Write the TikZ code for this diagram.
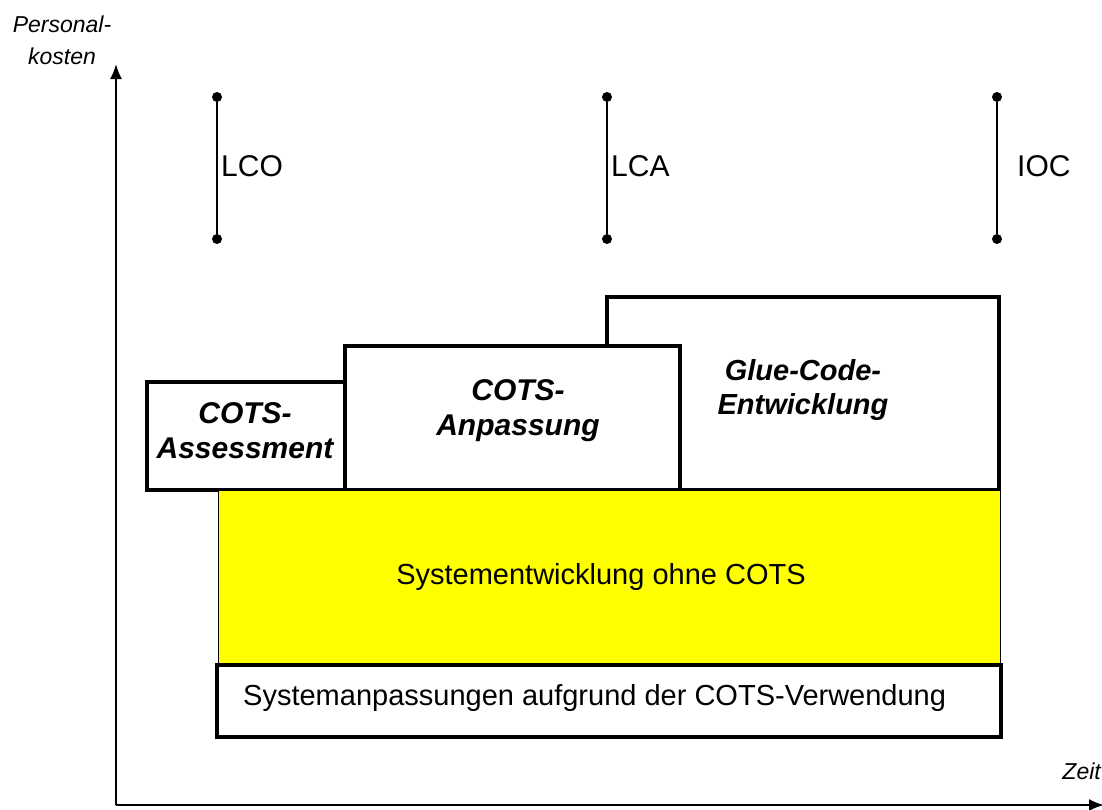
\documentclass[tikz,border=0pt]{standalone}
\usepackage{fontspec}
\setmainfont{Liberation Sans}
\usetikzlibrary{arrows.meta}
\definecolor{cotsyellow}{RGB}{255,255,0}
\tikzset{
  thickbox/.style={draw=black, line width=4pt, fill=white},
  boxlabel/.style={font=\fontsize{30}{35}\selectfont\bfseries\itshape, align=center, inner sep=0pt},
  gluelabel/.style={font=\fontsize{29}{34}\selectfont\bfseries\itshape, align=center, inner sep=0pt},
  plainlabel/.style={font=\fontsize{29}{32}\selectfont, inner sep=0pt},
  mslabel/.style={font=\fontsize{30}{32}\selectfont, inner sep=0pt, anchor=west},
  axislabel/.style={font=\fontsize{23}{32}\selectfont\itshape, align=center, inner sep=0pt},
  msline/.style={line width=2pt},
  msdot/.style={circle, fill=black, inner sep=0pt, minimum size=10pt},
  axis/.style={line width=2pt, -{Latex[length=15pt,width=12pt]}}
}
\begin{document}
\begin{tikzpicture}[x=1pt,y=-1pt]
\useasboundingbox (0,0) rectangle (1102,809);
% axes
\coordinate (origin) at (116,805);
\coordinate (ytip) at (116,64);
\coordinate (xtip) at (1104,805);
\draw[axis] (origin) -- (ytip);
\draw[axis] (origin) -- (xtip);
\node[axislabel] (ylab) at (62,40) {Personal-\\kosten};
\node[axislabel, anchor=east] (xlab) at (1101,771) {Zeit};
% milestones
\foreach \n/\x/\t/\dx in {lco/217/LCO/4, lca/607/LCA/4, ioc/997/IOC/20} {
  \node[msdot] (\n top) at (\x,97) {};
  \node[msdot] (\n bot) at (\x,239) {};
  \draw[msline] (\n top) -- (\n bot);
  \node[mslabel] (\n lab) at (\x+\dx,166) {\t};
}
% phase boxes
\draw[thickbox] (607,297) rectangle (999,490);
\draw[thickbox] (345,346) rectangle (680,490);
\draw[thickbox] (147,382) rectangle (345,490);
\node[boxlabel] (assess) at (245,431) {COTS-\\Assessment};
\node[boxlabel] (anpass) at (518,411) {COTS-\\Anpassung};
\node[gluelabel] (glue) at (803,390) {Glue-Code-\\Entwicklung};
% system development
\draw[fill=cotsyellow, draw=black, line width=1pt] (218,490) rectangle (1000,665);
\node[plainlabel] (sysent) at (601,577) {Systementwicklung ohne COTS};
\draw[thickbox] (217,665) rectangle (1001,737);
\node[plainlabel, anchor=west] (sysanp) at (243,698) {Systemanpassungen aufgrund der COTS-Verwendung};
\end{tikzpicture}
\end{document}
